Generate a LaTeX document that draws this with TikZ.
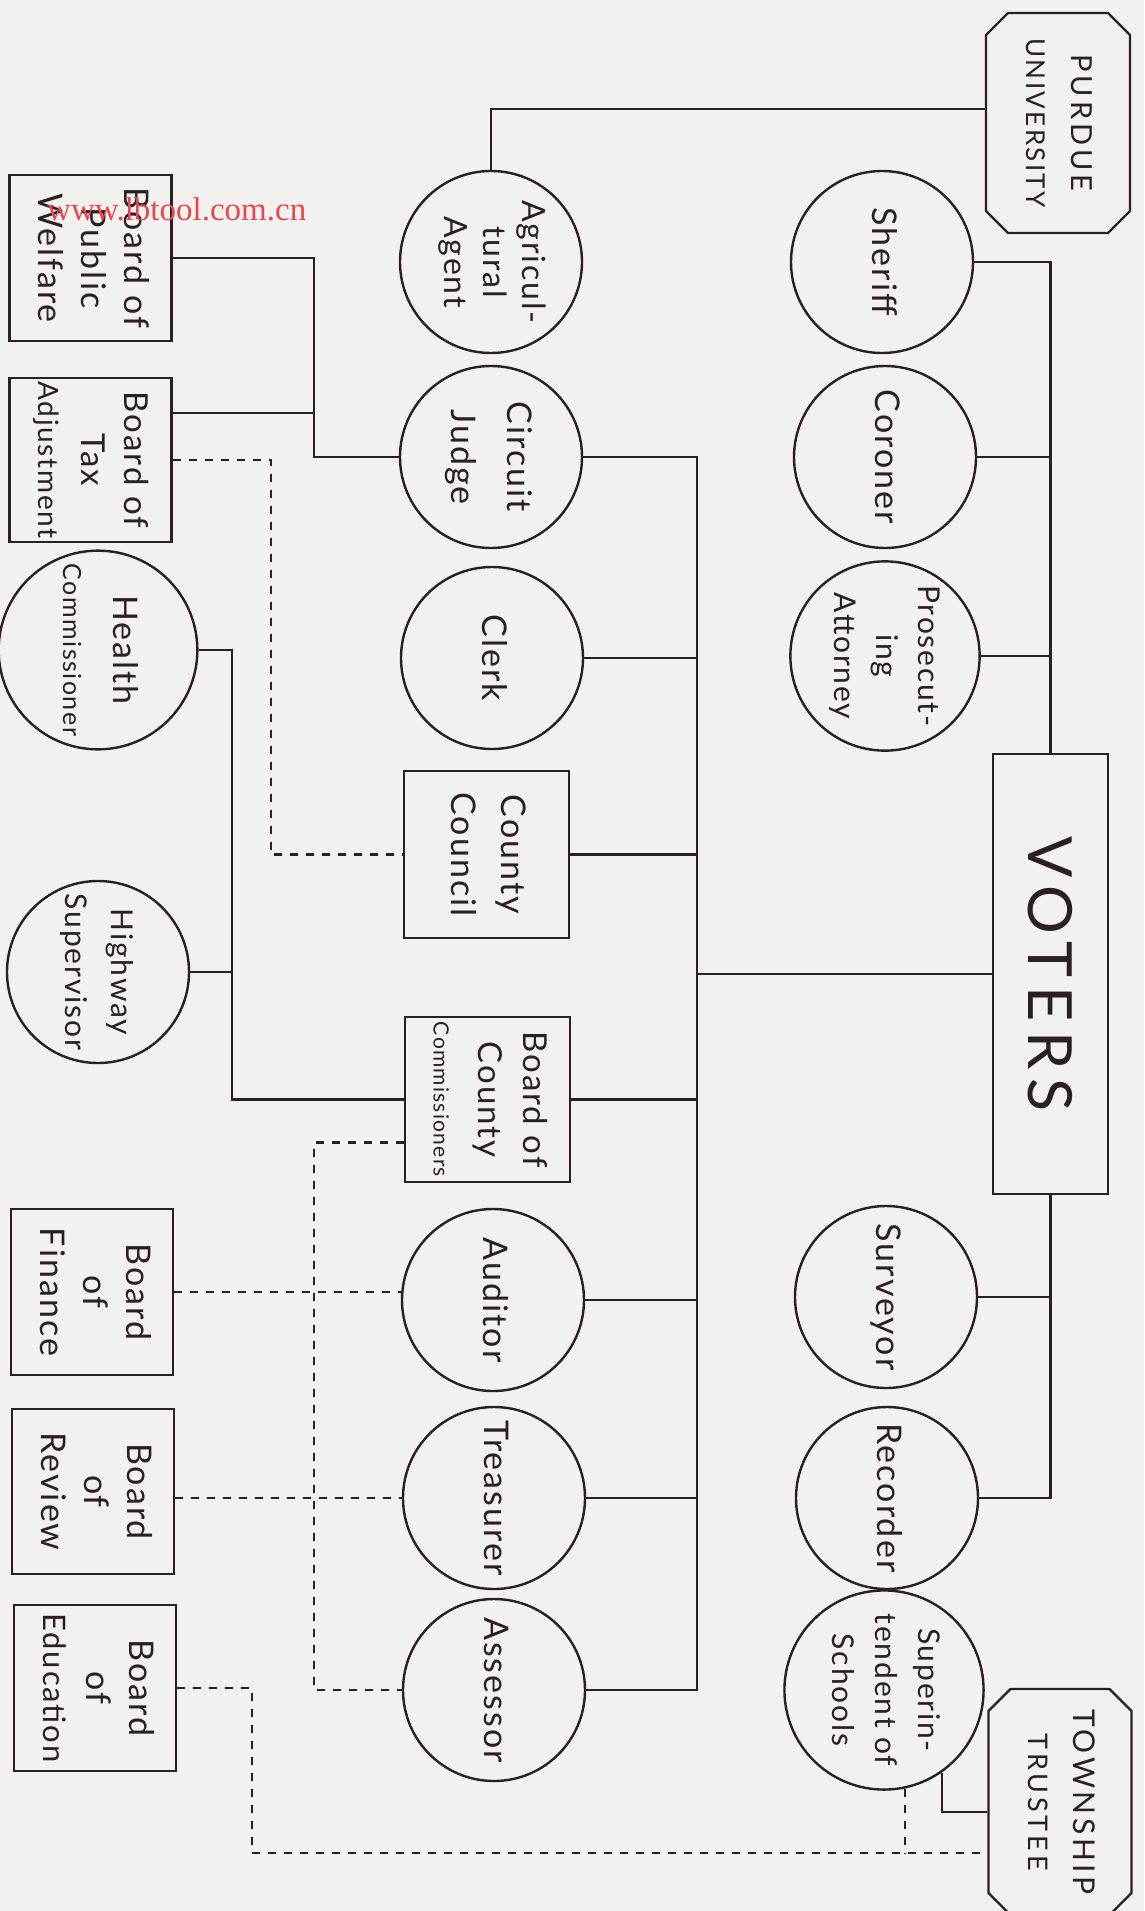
\documentclass[tikz,border=0pt]{standalone}
\usepackage{graphicx}
\usepackage{fontspec}
\setmainfont{Lato}[LetterSpace=6]
\newfontfamily\stampfont{Liberation Serif}
\usetikzlibrary{positioning,shapes.misc,calc}

\definecolor{ink}{HTML}{2A2022}
\definecolor{paper}{HTML}{F1F1F0}
\definecolor{stamp}{HTML}{E5484D}

\newcommand{\fsz}[2]{\fontsize{#1}{#2}\selectfont}
\newcommand{\vlab}[1]{\rotatebox{-90}{\begin{tabular}{@{}c@{}}#1\end{tabular}}}

\begin{document}
\begin{tikzpicture}[x=1pt,y=-1pt,
  color=ink, line width=2.4pt,
  office/.style={circle,draw,minimum size=182pt,inner sep=0pt,font=\fsz{34}{46}},
  board/.style={rectangle,draw,minimum width=162pt,minimum height=166pt,inner sep=0pt,font=\fsz{34}{43}},
  outside/.style={chamfered rectangle,chamfered rectangle xsep=11pt,chamfered rectangle ysep=11pt,
                  draw,inner sep=0pt,font=\fsz{28}{45}},
  dline/.style={dash pattern=on 8pt off 8pt,line width=2.1pt},
]
  \useasboundingbox (0,0) rectangle (1144,1911);
  \fill[paper] (0,0) rectangle (1144,1911);

  % outside bodies
  \node[outside,minimum width=144pt,minimum height=220pt] (purdue) at (1058,123)
    {\vlab{{\fsz{29}{44}\addfontfeature{LetterSpace=14}PURDUE}\\{\fsz{26}{44}\addfontfeature{LetterSpace=9}UNIVERSITY}}};
  \node[outside,minimum width=143pt,minimum height=226pt] (trustee) at (1060,1802)
    {\vlab{{\fsz{30}{45}\addfontfeature{LetterSpace=12}TOWNSHIP}\\{\fsz{27}{45}\addfontfeature{LetterSpace=14}TRUSTEE}}};
  \node[draw,minimum width=115pt,minimum height=440pt,inner sep=0pt] (voters) at (1050.5,974)
    {\rotatebox{-90}{\fsz{61}{61}\addfontfeature{LetterSpace=15}VOTERS}};

  % elected officers, right column
  \node[office] (sheriff) at (882,262) {\vlab{Sheriff}};
  \node[office] (coroner) at (885,457) {\vlab{Coroner}};
  \node[office,font=\fsz{30}{42}] (prosec) at (885,656) {\vlab{Prosecut-\\ing\\Attorney}};
  \node[office] (surveyor) at (886,1297) {\vlab{Surveyor}};
  \node[office] (recorder) at (887,1498) {\vlab{Recorder}};
  \node[office,font=\fsz{30}{43}] (super) at (884,1690) {\vlab{Superin-\\tendent of\\Schools}};

  % middle column
  \node[office,font=\fsz{32}{39}] (agri) at (491,262) {\vlab{Agricul-\\tural\\Agent}};
  \node[office,font=\fsz{34}{56}] (judge) at (491,457) {\vlab{Circuit\\Judge}};
  \node[office] (clerk) at (492,658) {\vlab{Clerk}};
  \node[board,minimum width=165pt,minimum height=167pt,font=\fsz{34}{50}] (council) at (486.5,854.5)
    {\vlab{County\\Council}};
  \node[board,minimum width=165pt,minimum height=165pt,font=\fsz{33}{45}] (bcc) at (487.5,1099.5)
    {\vlab{Board of\\County\\{\fsz{21}{30}Commissioners}}};
  \node[office] (auditor) at (493,1300) {\vlab{Auditor}};
  \node[office] (treasurer) at (494,1498) {\vlab{Treasurer}};
  \node[office] (assessor) at (494,1690) {\vlab{Assessor}};

  % appointed, left column
  \node[board] (bpw) at (90.5,258) {\vlab{Board of\\Public\\Welfare}};
  \node[board,minimum height=164pt,font=\fsz{33}{43}] (bta) at (90.5,460)
    {\vlab{Board of\\Tax\\{\fsz{28}{43}Adjustment}}};
  \node[office,font=\fsz{34}{50}] (health) at (98,650) {\vlab{Health\\{\fsz{25}{30}Commissioner}}};
  \node[office,font=\fsz{30}{46}] (highway) at (98,972) {\vlab{Highway\\Supervisor}};
  \node[board,font=\fsz{34}{43}] (finance) at (92,1292) {\vlab{Board\\of\\Finance}};
  \node[board,minimum height=165pt,font=\fsz{34}{43}] (review) at (93,1491.5) {\vlab{Board\\of\\Review}};
  \node[board,font=\fsz{34}{43}] (education) at (95,1688) {\vlab{Board\\of\\{\fsz{31}{43}Education}}};

  \coordinate (trunk) at (697,0);
  \coordinate (bjoin) at (314,0);
  \coordinate (hjoin) at (232,0);
  \coordinate (cjoin) at (271,0);
  \coordinate (ejoin) at (252,0);
  \coordinate (tlow) at ([yshift=-51pt]trustee.west);

  % solid lines
  \draw ([yshift=14pt]purdue.west) -| (agri.north);
  \draw (sheriff.east) -| (voters.north);
  \draw (coroner.east) -- (coroner.east -| voters.north);
  \draw (prosec.east) -- (prosec.east -| voters.north);
  \draw (surveyor.east) -- (surveyor.east -| voters.south);
  \draw (voters.south) |- (recorder.east);
  \draw (judge.east) -| (trunk |- assessor.east) -- (assessor.east);
  \foreach \n in {clerk,council,bcc,auditor,treasurer}
    \draw (\n.east) -- (\n.east -| trunk);
  \draw (voters.west) -- (voters.west -| trunk);
  \draw (bpw.east) -| (bjoin |- judge.west) -- (judge.west);
  \draw ([yshift=47pt]bta.east) -- ([yshift=47pt]bta.east -| bjoin);
  \draw (health.east) -| (hjoin |- bcc.west) -- (bcc.west);
  \draw (highway.east) -- (highway.east -| hjoin);
  \draw (super.-55) |- ([yshift=-10pt]trustee.west);

  % dashed lines
  \draw[dline] (bta.east) -| (cjoin |- council.west) -- (council.west);
  \draw[dline] ([yshift=-43pt]bcc.west) -| (bjoin |- assessor.west) -- (assessor.west);
  \draw[dline] (finance.east) -- (finance.east -| auditor.west);
  \draw[dline] (review.east |- treasurer.west) -- (treasurer.west);
  \draw[dline] (education.east) -| (ejoin |- tlow) -- (tlow);
  \draw[dline] (super.-78) -- (super.-78 |- tlow);

  \node[text=stamp,font=\stampfont\fsz{33}{33},anchor=west,inner sep=0pt] (mark) at (46,209) {www.lbtool.com.cn};
\end{tikzpicture}
\end{document}
